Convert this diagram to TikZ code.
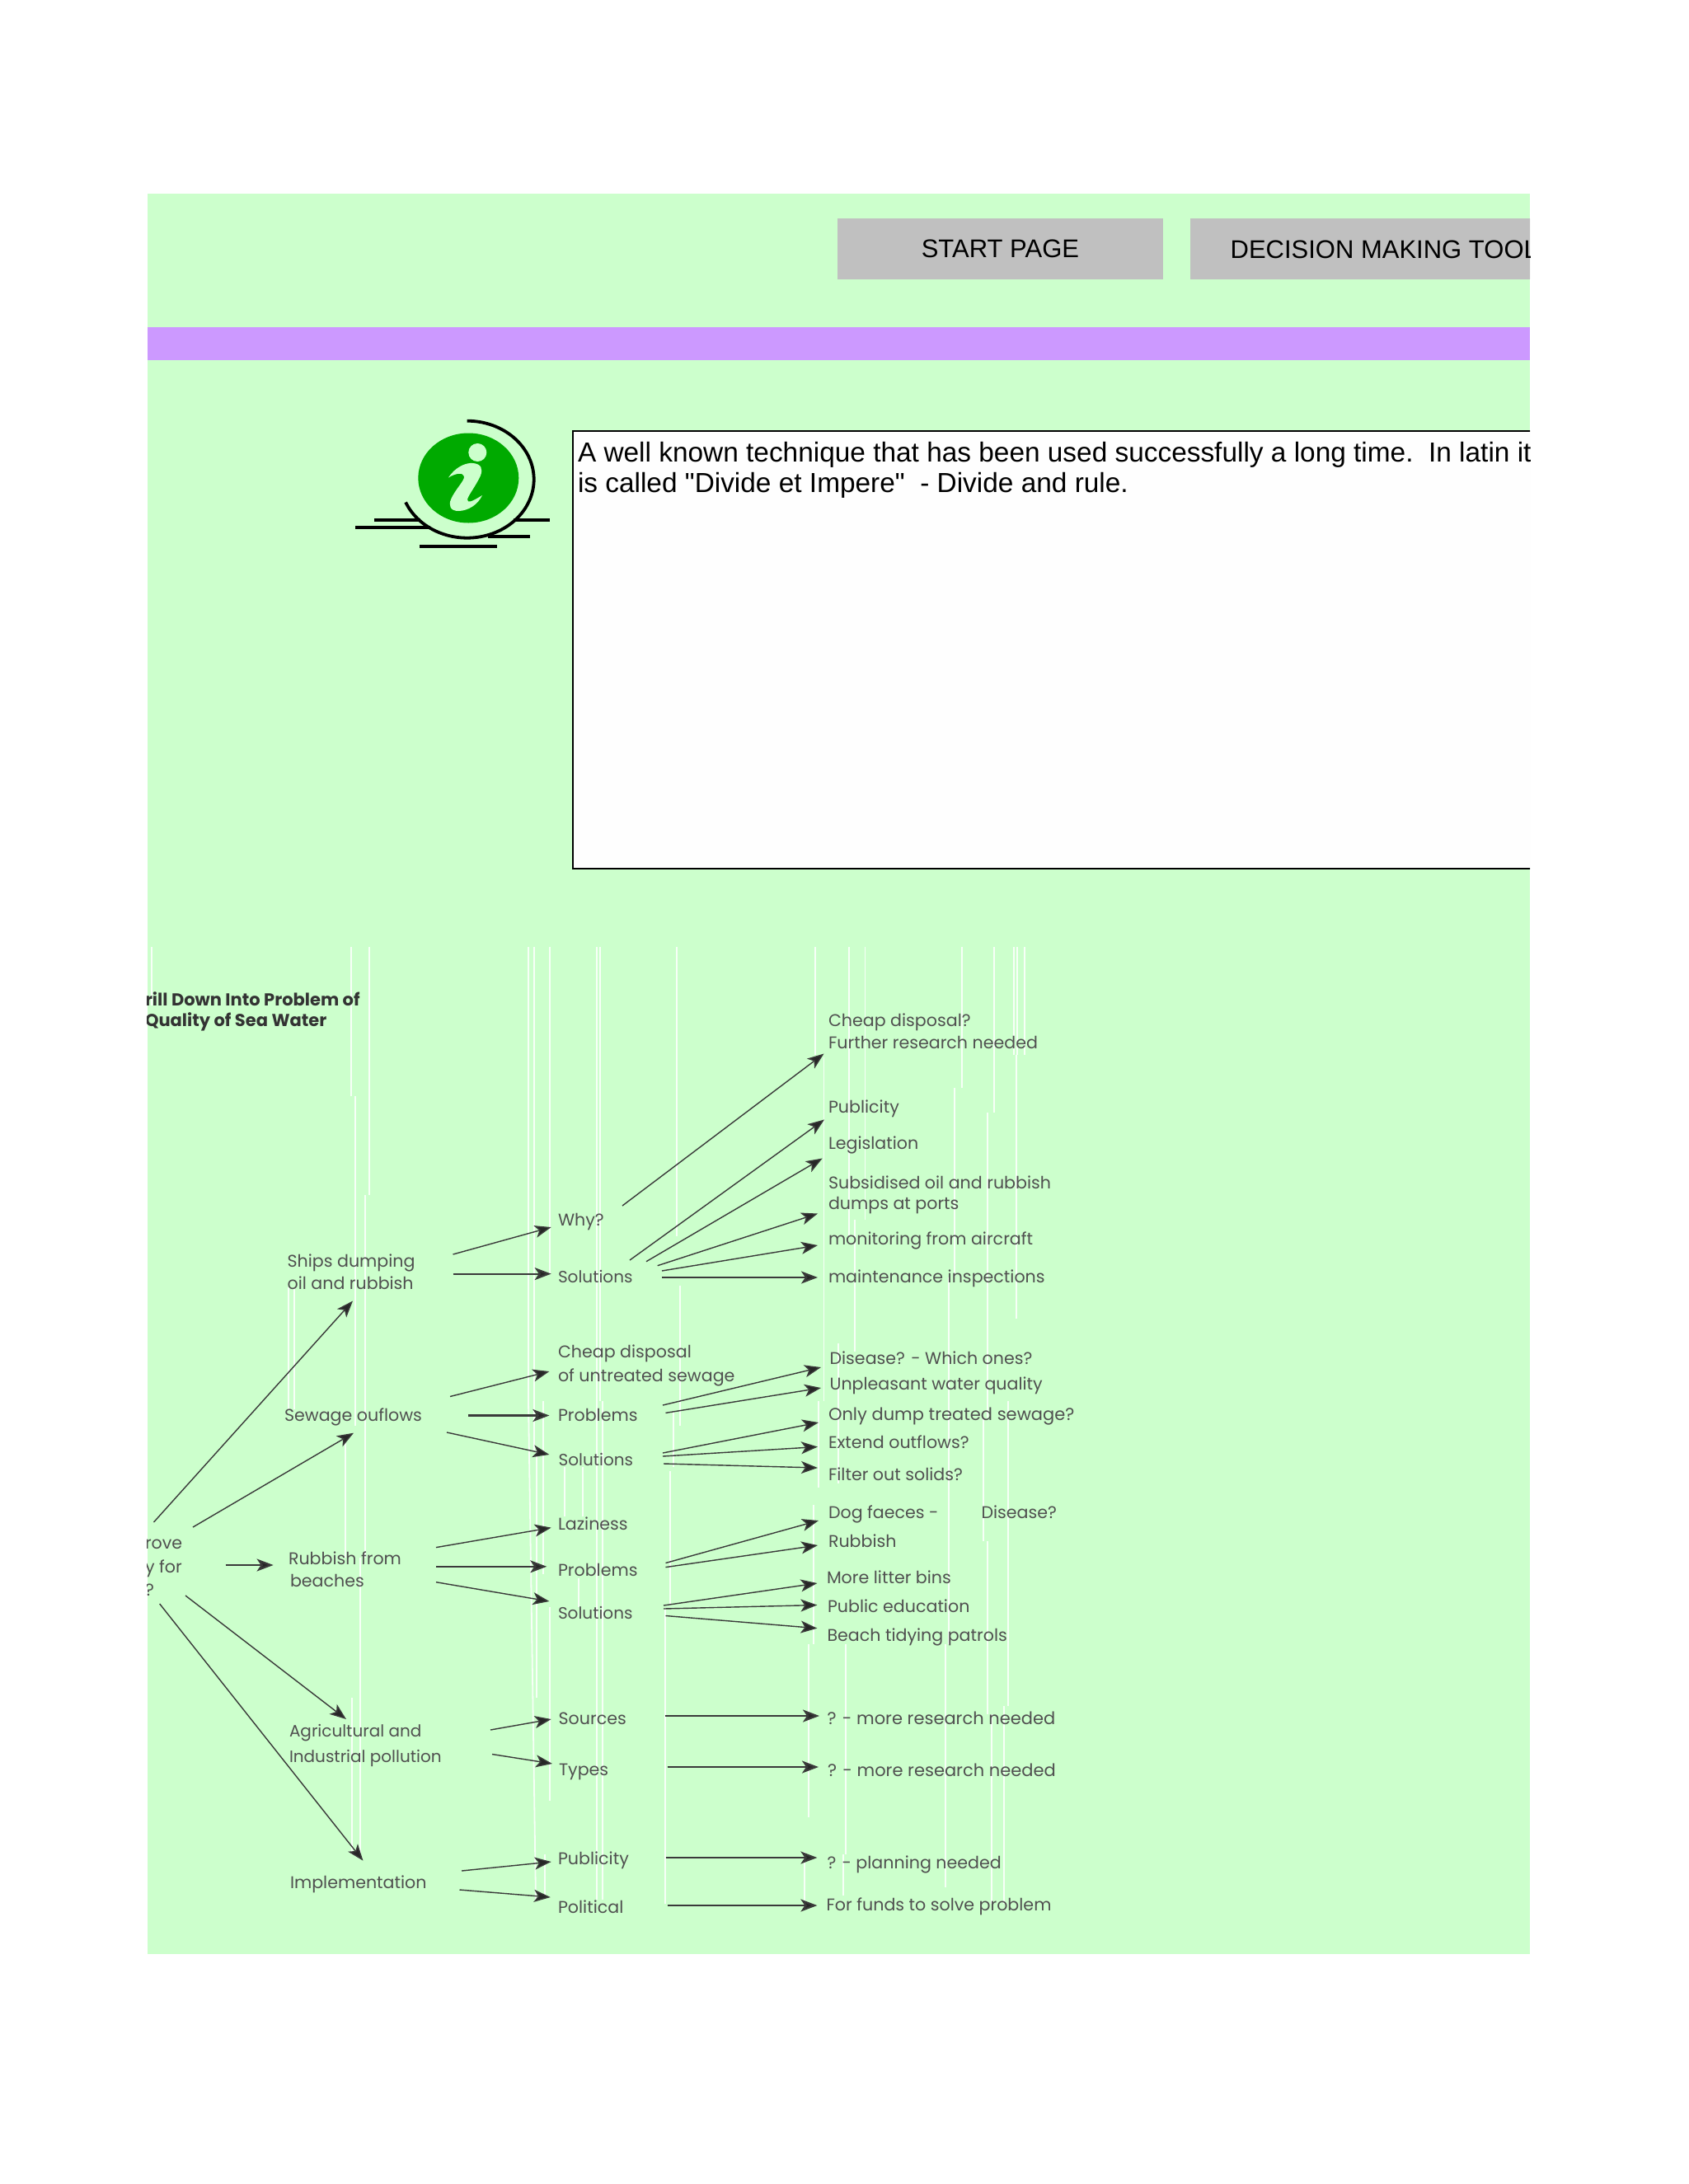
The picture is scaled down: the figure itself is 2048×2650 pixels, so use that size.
\documentclass[tikz,border=0pt]{standalone}
\usepackage{fontspec}
\setmainfont{Liberation Sans}
\newfontfamily\boxfont{Liberation Sans}
\newfontfamily\dgfont{Poppins}
\usetikzlibrary{arrows.meta}
\definecolor{bggreen}{HTML}{CCFFCC}
\definecolor{band}{HTML}{CC99FF}
\definecolor{btn}{HTML}{C0C0C0}
\definecolor{boxw}{HTML}{FEFEFE}
\definecolor{icong}{HTML}{00AA00}
\definecolor{dgtext}{HTML}{505050}
\definecolor{dgline}{HTML}{3A3A3A}
\tikzset{
  lbl/.style={anchor=base west,inner sep=0pt,outer sep=0pt,text=dgtext,font=\dgfont\fontsize{20.6}{26}\selectfont,align=left},
  lblnarrow/.style={lbl,font=\dgfont\fontsize{20}{26}\selectfont},
  lblwide/.style={lbl,font=\dgfont\fontsize{21}{26}\selectfont},
  ttl/.style={anchor=base west,inner sep=0pt,outer sep=0pt,text=black!80,font=\dgfont\bfseries\fontsize{21}{25}\selectfont,align=left},
  ui/.style={inner sep=0pt,outer sep=0pt,font=\fontsize{31}{37}\selectfont},
  boxtext/.style={inner sep=0pt,outer sep=0pt,font=\boxfont\fontsize{33.4}{37}\selectfont},
  arr/.style={draw=dgline,line width=1.4pt,-{Stealth[length=20pt,width=15pt,inset=5pt,fill=black!85]}},
  arrh/.style={arr,line width=2.2pt},
  scan/.style={draw=white,line width=1.8pt,opacity=.85},
  ink/.style={line width=3.8pt,black}
}
\begin{document}
\begin{tikzpicture}[x=1pt,y=-1pt]
\useasboundingbox (0,0) rectangle (2048,2650);
\fill[white] (0,0) rectangle (2048,2650);
\fill[bggreen] (178.7,235) rectangle (1856,2371);
\fill[band] (178.7,396.6) rectangle (1856,437);
\begin{scope}
\clip (178.7,235) rectangle (1856,2371);
\node[fill=btn,minimum width=394.4pt,minimum height=74pt,inner sep=0pt,anchor=north west] (start) at (1016,265) {};
\node[ui,anchor=center] (startt) at (start.center) {START PAGE};
\node[fill=btn,minimum width=420pt,minimum height=74pt,inner sep=0pt,anchor=north west] (dmt) at (1444,265) {};
\node[ui,anchor=base west] (dmtt) at (1492.6,313) {DECISION MAKING TOOLS};
\fill[boxw] (695,523) rectangle (1860,1054);
\draw[black,line width=2pt] (1860,523) -- (695,523) -- (695,1054) -- (1860,1054);
\node[boxtext,anchor=base west] (t1) at (701,560) {A well known technique that has been used successfully a long time.\ \ In latin it};
\node[boxtext,anchor=base west] (t2) at (701,597) {is called "Divide et Impere"\ \ - Divide and rule.};
\end{scope}
% icon
\draw[ink] (454,630.7) -- (510,630.7) (623,630.7) -- (667,630.7);
\draw[ink] (431,640) -- (522,640);
\draw[ink] (592,651) -- (643,651);
\draw[ink] (509,662.7) -- (603,662.7);
\fill[icong] (568.3,580) ellipse [x radius=61pt,y radius=54.5pt];
\fill[bggreen] (579.3,549) circle [radius=11pt];
\fill[bggreen] (544,579.5) .. controls (552,567) and (565,561) .. (574,562) .. controls (584,563) and (586,569) .. (583,577)
  .. controls (577,590) and (568,601) .. (567,606) .. controls (567,611) and (572,609) .. (585,601)
  .. controls (580,612) and (568,620) .. (556,620) .. controls (546,620) and (544,613) .. (547,606)
  .. controls (552,594) and (564,583) .. (563,578) .. controls (562,573) and (553,574) .. (544,579.5) -- cycle;
\draw[line width=3.8pt,black] plot[domain=90:-157,samples=60,smooth] ({566.7+81*cos(\x)},{581.7-71*sin(\x)});
% scan lines
\draw[scan] (184,1149) -- (184,1220);
\draw[scan] (426,1149) -- (426,1330) (431,1330) -- (431,1730) (419,1745) -- (419,1890) (427,2060) -- (427,2250);
\draw[scan] (448,1149) -- (448,1450) (443,1450) -- (443,1890) (437,1890) -- (437,2250);
\draw[scan] (350,1562) -- (350,1710) (356.6,1562) -- (356.6,1710);
\draw[scan] (641,1149) -- (641,1700) -- (644,1900) -- (650,2305);
\draw[scan] (648,1149) -- (648,1760) (651,1760) -- (651,2060);
\draw[scan] (667,1149) -- (667,1545) (659,1700) -- (659,1910) (667,1950) -- (667,2185) (661,2250) -- (661,2300);
\draw[scan] (723.6,1149) -- (723.6,2305) (728,1149) -- (728,1700) (731,1700) -- (731,2305);
\draw[scan] (707,1780) -- (707,1840) (702,1915) -- (702,1950) (685,1780) -- (685,1840);
\draw[scan] (821,1149) -- (821,1500) (825,1560) -- (825,1730) (817,1713) -- (817,1780) (813,1785) -- (813,1948) (807,1952) -- (807,2310);
\draw[scan] (989,1149) -- (989,1280) (999.5,1283) -- (999.5,1700) (993,1700) -- (993,1805) (987,1826) -- (987,1995) (980.7,1995) -- (980.7,2205) (976,2247) -- (976,2310);
\draw[scan] (1030,1149) -- (1030,1500) (1017,1630) -- (1017,1800) (1026,1995) -- (1026,2250) (1023,2250) -- (1023,2300);
\draw[scan] (1049.5,1149) -- (1049.5,1480) (1037,1480) -- (1037,1640);
\draw[scan] (1167,1149) -- (1167,1320) (1158,1320) -- (1158,1550) (1151,1550) -- (1151,1995) (1147,1995) -- (1147,2290);
\draw[scan] (1206,1149) -- (1206,1350) (1198,1350) -- (1198,1720) (1193,1720) -- (1193,1870) (1198,1870) -- (1198,2080) (1202.6,2080) -- (1202.6,2310);
\draw[scan] (1230,1149) -- (1230,1280) (1234,1149) -- (1234,1280);
\draw[scan] (1243,1149) -- (1243,1280) (1233,1280) -- (1233,1600) (1223,1700) -- (1223,2070) (1218,2070) -- (1218,2310);
% diagram text
\begin{scope}
\clip (178.7,1130) rectangle (1856,2371);
\node[ttl] (title) at (176,1245) {rill Down Into Problem of\\Quality of Sea Water};
\node[lbl] (rt1) at (176,1879) {rove};
\node[lbl] (rt2) at (176,1908) {y for};
\node[lbl] (rt3) at (176,1936.5) {?};
\end{scope}
\node[lbl] (ships) at (348.6,1564) {Ships dumping\\[0.4pt]oil and rubbish};
\node[lbl] (why) at (677,1487) {Why?};
\node[lblnarrow] (sol1) at (677,1556) {Solutions};
\node[lbl] (cheapu) at (677,1676) {Cheap disposal\\[3pt]of untreated sewage};
\node[lbl] (sew) at (345,1724) {Sewage ouflows};
\node[lbl] (pr2) at (677,1724) {Problems};
\node[lblnarrow] (sol2) at (677.6,1778) {Solutions};
\node[lbl] (laz) at (677,1856) {Laziness};
\node[lbl] (rub) at (350,1925.6) {Rubbish from\\[1.6pt]\hspace{2pt}beaches};
\node[lbl] (pr3) at (677,1912) {Problems};
\node[lblnarrow] (sol3) at (677,1964) {Solutions};
\node[lbl] (src) at (677.6,2092) {Sources};
\node[lbl] (typ) at (678,2154.5) {Types};
\node[lblnarrow] (agr) at (351,2138.5) {Agricultural and\\[5.5pt]Industrial pollution};
\node[lbl] (imp) at (352,2291) {Implementation};
\node[lbl] (pub) at (677,2262) {Publicity};
\node[lbl] (pol) at (677,2321) {Political};
\node[lbl] (rc1) at (1005,1272) {Cheap disposal?\\[1pt]Further research needed};
\node[lbl] (rp) at (1005,1350) {Publicity};
\node[lbl] (rl) at (1005,1394.5) {Legislation};
\node[lbl] (rs) at (1005,1467) {Subsidised oil and rubbish\\[-1pt]dumps at ports};
\node[lbl] (rm) at (1005,1510) {monitoring from aircraft};
\node[lbl] (ri) at (1005,1556) {maintenance inspections};
\node[lbl] (rd) at (1006.6,1655) {Disease? - Which ones?};
\node[lbl] (ru) at (1006.6,1686) {Unpleasant water quality};
\node[lblwide] (ro) at (1005,1723) {Only dump treated sewage?};
\node[lbl] (re) at (1005,1757) {Extend outflows?};
\node[lbl] (rf) at (1005,1796) {Filter out solids?};
\node[lbl] (rdg) at (1005,1842) {Dog faeces -};
\node[lbl] (rdz) at (1190.5,1842) {Disease?};
\node[lbl] (rr) at (1005,1877) {Rubbish};
\node[lbl] (rl2) at (1003,1921) {More litter bins};
\node[lbl] (re2) at (1004,1956) {Public education};
\node[lbl] (rb) at (1003.5,1991) {Beach tidying patrols};
\node[lblwide] (rq1) at (1003.5,2092) {? - more research needed};
\node[lblwide] (rq2) at (1004,2155) {? - more research needed};
\node[lbl] (rq3) at (1003.5,2267) {? - planning needed};
\node[lbl] (rq4) at (1002.6,2318) {For funds to solve problem};
% connector ends
\foreach \n/\x/\y in {
 a1/549.5/1522,a2/668.7/1489,b1/549.5/1545.6,b2/668.7/1545.6,c1/755/1463,c2/999.5/1278.5,
 d1/764/1529,d2/1000/1358.5,e1/784/1530.7,e2/997.7/1405.5,f1/797.7/1535.7,f2/992/1472.5,
 g1/803/1542,g2/992/1511,h1/803/1550,h2/992/1550,i1/546/1694.5,i2/666.4/1664,
 j1/568/1717.5,j2/666.4/1717.5,k1/542/1738,k2/666.4/1765,l1/804/1705,l2/996/1659,
 m1/807.5/1714.4,m2/996/1684,n1/804/1763,n2/993/1726,o1/804/1767,o2/992/1755.5,
 p1/805/1776,p2/992/1781,q1/807.5/1896.5,q2/993/1845,r1/807.5/1901.6,r2/992/1875,
 s1/805/1948,s2/991.4/1921,t1a/805/1952,t2a/991.4/1947.5,u1/807.5/1960.5,u2/991.4/1975.7,
 v1/806.6/2082,v2/994/2082,w1/809.7/2144,w2/993/2144,x1/807.5/2254,x2/991.4/2254,
 y1/809.7/2312,y2/991.4/2312,z1/529/1877.6,z2/668.7/1853.6,aa1/529/1900.8,aa2/663.3/1900.8,
 ab1/529/1919.7,ab2/666.4/1943,ac1/595/2099,ac2/668.7/2086,ad1/597/2128.5,ad2/670/2140,
 ae1/560/2270,ae2/668.7/2259,af1/557.5/2293,af2/667.8/2302,
 ag1/186.5/1847,ag2/428/1578.5,ah1/234/1853,ah2/429/1738.7,ai1/273.6/1899,ai2/331.6/1899,
 aj1/225/1936,aj2/420/2086,ak1/193.7/1946,ak2/440.5/2257.7}
 {\coordinate (\n) at (\x,\y);}
\foreach \p in {a,c,d,e,f,g,i,k,l,m,n,o,p,q,r,s,u,z,ab,ac,ad,ae,af,ag,ah,aj,ak}
 {\draw[arr] (\p1) -- (\p2);}
\draw[arr] (t1a) -- (t2a);
\foreach \p in {b,h,j,v,w,x,y,aa,ai}
 {\draw[arrh] (\p1) -- (\p2);}
\end{tikzpicture}
\end{document}
